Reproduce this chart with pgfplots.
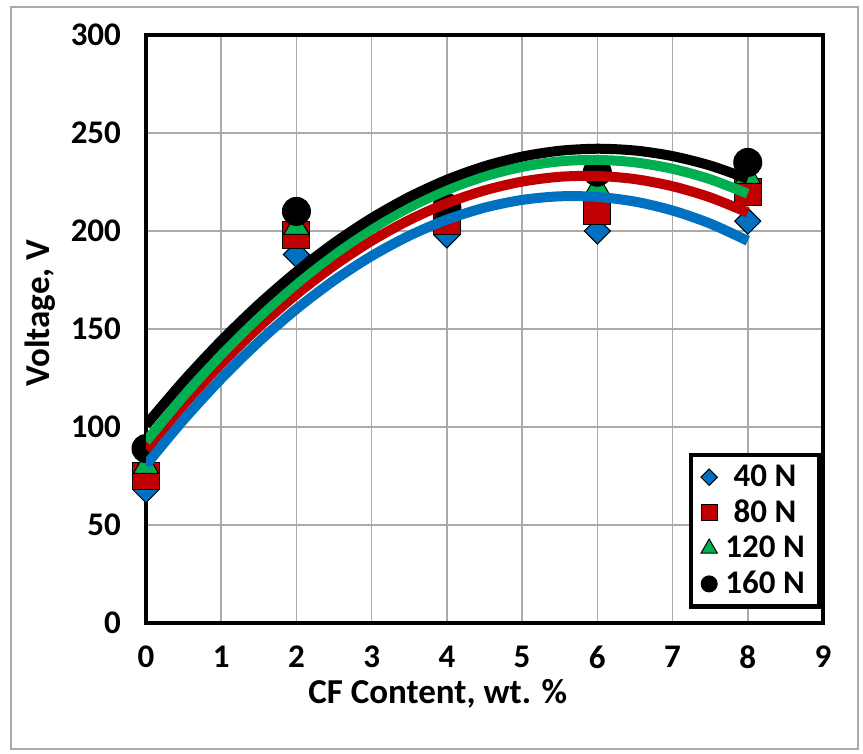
\documentclass[border=0pt]{standalone}
\usepackage{pgfplots}
\pgfplotsset{compat=1.18}
\usepackage{fontspec}
\setmainfont{Carlito}
\definecolor{cblue}{RGB}{0,112,192}
\definecolor{cred}{RGB}{192,0,0}
\definecolor{cgreen}{RGB}{0,176,80}
\definecolor{cgrid}{RGB}{170,170,170}
\begin{document}
\begin{tikzpicture}
\begin{axis}[
  scale only axis,
  width=338.5pt, height=294pt,
  xmin=0, xmax=9, ymin=0, ymax=300,
  xtick={0,1,...,9}, ytick={0,50,...,300},
  major tick length=0pt,
  grid=major,
  major grid style={cgrid, line width=0.8pt},
  axis line style={line width=2.2pt, black},
  clip mode=individual,
  /pgf/number format/assume math mode=true,
  tick label style={font=\bfseries\fontsize{16.5}{18}\selectfont},
  yticklabel style={xshift=-9pt},
  xticklabel style={yshift=-8pt},
  label style={font=\bfseries\fontsize{17.5}{20}\selectfont},
  xlabel={CF Content, wt. \%},
  ylabel={Voltage, V},
  xlabel style={at={(axis description cs:0.431,-0.121)}, anchor=center},
  ylabel style={at={(axis description cs:-0.157,0.527)}, anchor=center},
  legend style={at={(axis description cs:0.997,0.024)}, anchor=south east,
    draw=black, line width=2.2pt, font=\bfseries\fontsize{16.5}{18}\selectfont,
    row sep=1.2pt, inner xsep=5pt, inner ysep=3pt, /tikz/column sep=2pt},
  legend cell align=center,
  legend image code/.code={\draw[#1, line width=0.5pt] plot coordinates {(0.25cm,0cm)};},
]
% data points
\addplot[only marks, mark=square*, mark size=4.6pt, mark options={rotate=45, fill=cblue, draw=black, line width=0.5pt}, forget plot]
  coordinates {(0,68) (2,188) (4,198) (6,200) (8,205)};
\addplot[only marks, mark=square*, mark size=6.75pt, mark options={fill=cred, draw=black, line width=0.5pt}, forget plot]
  coordinates {(0,75) (2,198) (4,205) (6,210) (8,220)};
\addplot[only marks, mark=triangle*, mark size=7.3pt, mark options={fill=cgreen, draw=black, line width=0.5pt}, forget plot]
  coordinates {(0,80) (2,202) (4,210) (6,222) (8,228)};
\addplot[only marks, mark=*, mark size=7pt, mark options={fill=black, draw=black, line width=0.5pt}, forget plot]
  coordinates {(0,89) (2,210) (4,212) (6,230) (8,235)};
% trend curves
\addplot[cblue, line width=5pt, smooth, no marks, forget plot] coordinates {
(0,80.6) (0.5,103.69) (1,124.65) (1.5,143.49) (2,160.2) (2.5,174.79) (3,187.25) (3.5,197.59) (4,205.8)
(4.5,211.89) (5,215.85) (5.5,217.69) (6,217.4) (6.5,214.99) (7,210.45) (7.5,203.79) (8,195.0)};
\addplot[cred, line width=5pt, smooth, no marks, forget plot] coordinates {
(0,88.63) (0.5,111.45) (1,132.23) (1.5,150.97) (2,167.68) (2.5,182.36) (3,195.0) (3.5,205.6) (4,214.17)
(4.5,220.7) (5,225.2) (5.5,227.66) (6,228.08) (6.5,226.47) (7,222.83) (7.5,217.15) (8,209.43)};
\addplot[cgreen, line width=5pt, smooth, no marks, forget plot] coordinates {
(0,92.63) (0.5,115.8) (1,136.93) (1.5,156.02) (2,173.08) (2.5,188.11) (3,201.1) (3.5,212.05) (4,220.97)
(4.5,227.85) (5,232.7) (5.5,235.51) (6,236.28) (6.5,235.02) (7,231.73) (7.5,226.4) (8,219.03)};
\addplot[black, line width=5pt, smooth, no marks, forget plot] coordinates {
(0,101.05) (0.5,123.5) (1,144.0) (1.5,162.56) (2,179.17) (2.5,193.83) (3,206.55) (3.5,217.32) (4,226.14)
(4.5,233.02) (5,237.95) (5.5,240.93) (6,241.97) (6.5,241.06) (7,238.2) (7.5,233.4) (8,226.65)};
% legend
\addlegendimage{only marks, mark=square*, mark size=2.9pt, mark options={rotate=45, fill=cblue, draw=black}}
\addlegendentry{40 N}
\addlegendimage{only marks, mark=square*, mark size=4pt, mark options={fill=cred, draw=black}}
\addlegendentry{80 N}
\addlegendimage{only marks, mark=triangle*, mark size=4.7pt, mark options={fill=cgreen, draw=black}}
\addlegendentry{120 N}
\addlegendimage{only marks, mark=*, mark size=4pt, mark options={fill=black, draw=black}}
\addlegendentry{160 N}
\end{axis}
\draw[cgrid, line width=0.6pt] (-67.5pt,-63pt) rectangle (356pt,308pt);
\path (-73pt,-65.5pt) rectangle (358.5pt,311.5pt);
\end{tikzpicture}
\end{document}
